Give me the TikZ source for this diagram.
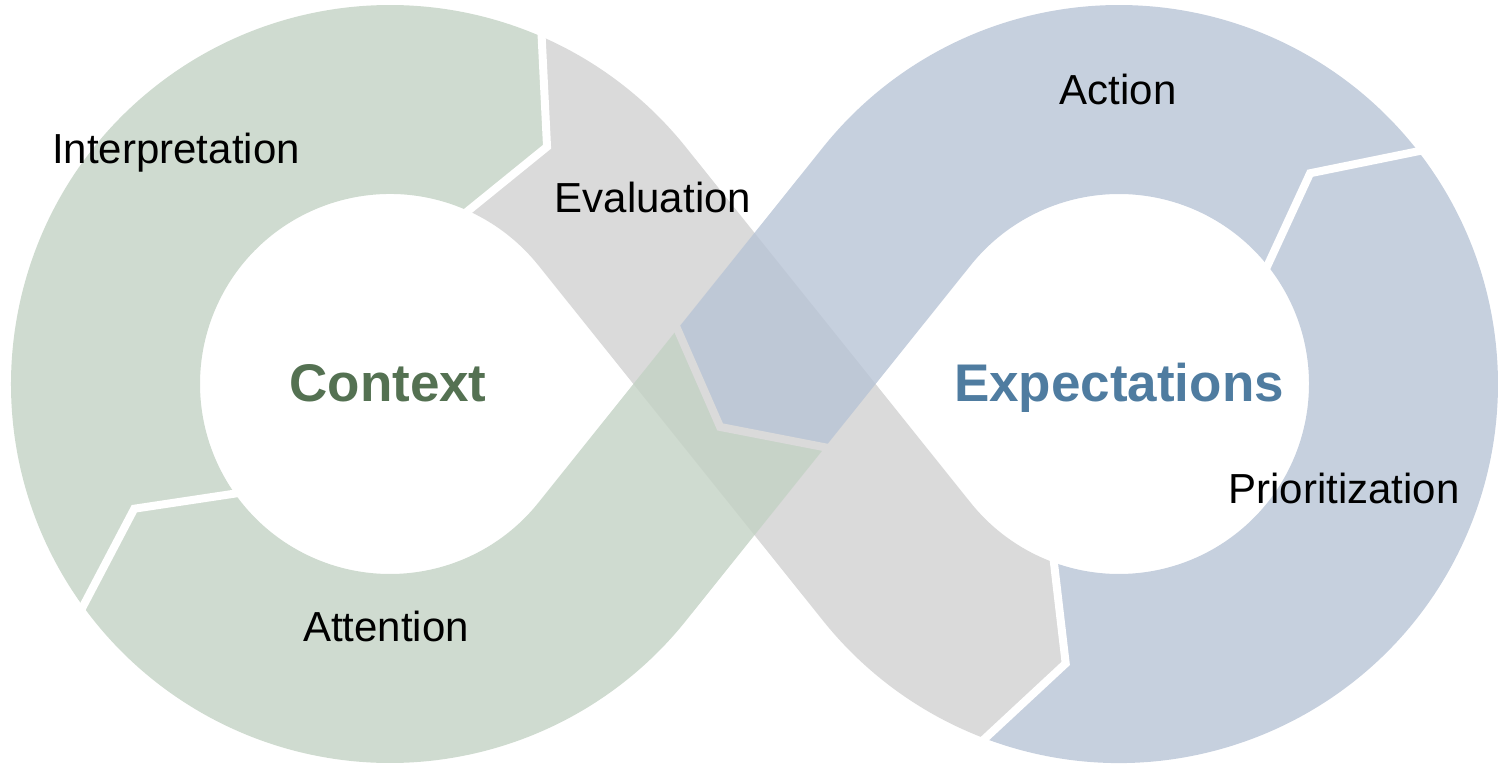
\documentclass[tikz,border=0pt]{standalone}
\usepackage{fontspec}
\setmainfont{Liberation Sans}
\usetikzlibrary{calc}
\definecolor{ringgreen}{RGB}{195,210,196}
\definecolor{ringblue}{RGB}{184,196,214}
\definecolor{ringgray}{RGB}{218,218,218}
\definecolor{ctxgreen}{RGB}{84,113,82}
\definecolor{expblue}{RGB}{79,124,160}
\tikzset{
  seggreen/.style={fill=ringgreen, fill opacity=0.8},
  segblue/.style={fill=ringblue, fill opacity=0.8},
  seggray/.style={fill=ringgray},
  gapline/.style={draw=white, line width=8pt, line join=miter, line cap=butt},
  lbl/.style={inner sep=0pt, anchor=base, font=\fontsize{42}{50}\selectfont},
  hub/.style={inner sep=0pt, anchor=base, font=\fontsize{53}{62}\selectfont\bfseries}
}
\begin{document}
\begin{tikzpicture}[x=1pt,y=-1pt]
\useasboundingbox (0,0) rectangle (1499,765);
% centres
\coordinate (CL) at (390,384);
\coordinate (CR) at (1119,384);
\coordinate (X) at (754.5,384);
% tangent points of the straight bands
\coordinate (L1o) at ($(CL)+(-38.69:379)$);
\coordinate (L1i) at ($(CL)+(-38.69:190)$);
\coordinate (L2o) at ($(CL)+(38.69:379)$);
\coordinate (L2i) at ($(CL)+(38.69:190)$);
\coordinate (R1o) at ($(CR)+(141.31:379)$);
\coordinate (R1i) at ($(CR)+(141.31:190)$);
\coordinate (R2o) at ($(CR)+(-141.31:379)$);
\coordinate (R2i) at ($(CR)+(-141.31:190)$);
% dividers
\coordinate (D1o) at ($(CL)+(143.5:379)$);
\coordinate (D1a) at ($(CL)+(154:284.5)$);
\coordinate (D1i) at ($(CL)+(143.5:190)$);
\coordinate (D2o) at ($(CL)+(293:379)$);
\coordinate (D2a) at ($(CL)+(303.5:284.5)$);
\coordinate (D2i) at ($(CL)+(293:190)$);
\coordinate (D3o) at ($(CR)+(111.3:379)$);
\coordinate (D3a) at ($(CR)+(100.8:284.5)$);
\coordinate (D3i) at ($(CR)+(111.3:190)$);
\coordinate (D4o) at ($(CR)+(-37.3:379)$);
\coordinate (D4a) at ($(CR)+(-47.8:284.5)$);
\coordinate (D4i) at ($(CR)+(-37.3:190)$);
\coordinate (D5p) at ($(X)+(128.69:2)+(38.69:94.5)$);
\coordinate (D5q) at ($(X)+(128.69:2)+(218.69:94.5)$);
\coordinate (D5a) at ($(X)+(128.69:55)$);

% Evaluation (gray)
\path[seggray] (D2o) arc[start angle=293, end angle=321.31, radius=379]
  -- (R1i) arc[start angle=141.31, end angle=111.3, radius=190]
  -- (D3a) -- (D3o) arc[start angle=111.3, end angle=141.31, radius=379]
  -- (L1i) arc[start angle=321.31, end angle=293, radius=190]
  -- (D2a) -- cycle;
% Interpretation (green)
\path[seggreen] (D1o) arc[start angle=143.5, end angle=293, radius=379]
  -- (D2a) -- (D2i) arc[start angle=293, end angle=143.5, radius=190]
  -- (D1a) -- cycle;
% Attention (green)
\path[seggreen] (D5p) -- (L2o) arc[start angle=38.69, end angle=143.5, radius=379]
  -- (D1a) -- (D1i) arc[start angle=143.5, end angle=38.69, radius=190]
  -- (D5q) -- (D5a) -- cycle;
% Prioritization (blue)
\path[segblue] (D3o) arc[start angle=111.3, end angle=-37.3, radius=379]
  -- (D4a) -- (D4i) arc[start angle=-37.3, end angle=111.3, radius=190]
  -- (D3a) -- cycle;
% Action (blue)
\path[segblue] (D4o) arc[start angle=-37.3, end angle=-141.31, radius=379]
  -- (D5q) -- (D5a) -- (D5p)
  -- (R2i) arc[start angle=-141.31, end angle=-37.3, radius=190]
  -- (D4a) -- cycle;

% gaps between the segments
\draw[gapline] ($(CL)+(143.5:387)$) -- (D1a) -- ($(CL)+(143.5:182)$);
\draw[gapline] ($(CL)+(293:387)$) -- (D2a) -- ($(CL)+(293:182)$);
\draw[gapline] ($(CR)+(111.3:387)$) -- (D3a) -- ($(CR)+(111.3:182)$);
\draw[gapline] ($(CR)+(-37.3:387)$) -- (D4a) -- ($(CR)+(-37.3:182)$);
\draw[gapline, draw=ringgray] ($(X)+(128.69:2)+(218.69:101)$) -- (D5a) -- ($(X)+(128.69:2)+(38.69:101)$);

% labels
\node[lbl] (interp) at (176,164) {Interpretation};
\node[lbl] (eval) at (653,212) {Evaluation};
\node[lbl] (action) at (1118,105) {Action};
\node[lbl] (prior) at (1344,503) {Prioritization};
\node[lbl] (atten) at (386,641) {Attention};
\node[hub, text=ctxgreen] (context) at (388,401) {Context};
\node[hub, text=expblue] (expect) at (1119,401) {Expectations};
\end{tikzpicture}
\end{document}
